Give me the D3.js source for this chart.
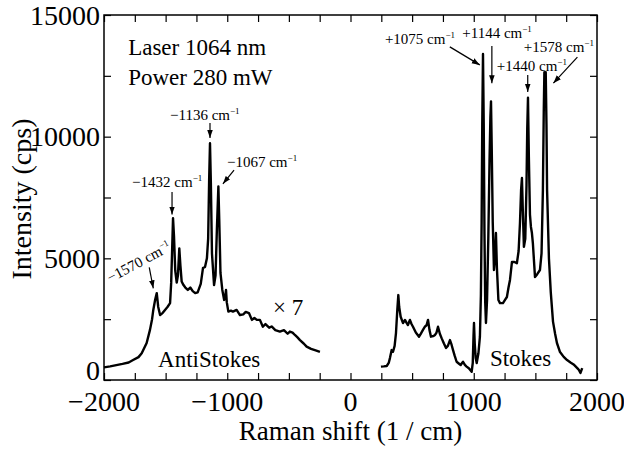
<!DOCTYPE html>
<html>
<head>
<meta charset="utf-8">
<script src="https://cdn.jsdelivr.net/npm/d3@7"></script>
<style>
  body { margin: 0; background: #fff; }
</style>
</head>
<body>
<div id="chart"></div>
<script>
// anti-Stokes branch (signal multiplied by 7)
var antiShift = [-2000, -1950, -1900, -1850, -1800, -1764, -1720, -1694, -1654, -1627, -1610, -1600, -1585, -1572, -1560, -1545, -1525, -1505, -1485, -1464, -1455, -1448, -1440, -1432, -1422, -1410, -1400, -1389, -1380, -1370, -1355, -1340, -1320, -1300, -1280, -1260, -1240, -1215, -1197, -1180, -1165, -1155, -1147, -1140, -1133, -1124, -1107, -1095, -1084, -1072, -1065, -1055, -1040, -1025, -1015, -1010, -1004, -991, -970, -954, -924, -897, -870, -850, -824, -800, -780, -760, -735, -711, -690, -660, -640, -610, -573, -540, -510, -492, -470, -451, -430, -410, -380, -356, -320, -289, -248];
var antiCounts = [520, 560, 610, 660, 720, 820, 940, 1100, 1520, 2060, 2500, 2880, 3300, 3570, 3000, 2670, 2750, 2880, 3000, 3160, 3990, 5200, 6650, 5900, 4500, 4000, 4300, 5410, 4700, 4050, 3900, 3800, 3700, 3800, 3650, 3570, 3600, 3950, 4600, 4650, 5000, 5800, 8200, 9730, 8100, 5200, 3900, 4300, 6200, 7950, 6600, 4400, 3700, 3290, 3500, 3700, 3200, 2810, 2850, 2810, 2880, 2670, 2700, 2800, 2750, 2470, 2550, 2470, 2470, 2190, 2300, 2150, 2200, 2050, 1990, 2050, 1900, 1990, 1950, 1850, 1750, 1640, 1500, 1370, 1280, 1230, 1160];

// Stokes branch
var stokesShift = [247, 270, 294, 310, 320, 334, 345, 358, 369, 380, 388, 395, 407, 426, 442, 455, 466, 482, 495, 507, 530, 556, 570, 588, 605, 617, 629, 641, 653, 670, 686, 698, 710, 725, 740, 758, 775, 790, 807, 820, 832, 845, 861, 878, 894, 905, 913, 928, 942, 960, 983, 992, 998, 1002, 1008, 1016, 1024, 1038, 1050, 1058, 1064, 1069, 1075, 1081, 1087, 1093, 1099, 1108, 1118, 1128, 1135, 1140, 1146, 1154, 1164, 1172, 1180, 1188, 1200, 1213, 1237, 1255, 1269, 1282, 1294, 1310, 1330, 1350, 1364, 1375, 1384, 1391, 1399, 1407, 1418, 1428, 1434, 1440, 1447, 1456, 1464, 1472, 1480, 1497, 1515, 1537, 1550, 1561, 1568, 1573, 1578, 1584, 1590, 1595, 1610, 1625, 1643, 1660, 1675, 1700, 1730, 1757, 1785, 1810, 1838, 1852, 1866, 1880];
var stokesCounts = [550, 560, 575, 700, 900, 1230, 1160, 1400, 1930, 2900, 3490, 3000, 2600, 2340, 2470, 2350, 2260, 2470, 2300, 2190, 1950, 1780, 1900, 2060, 2200, 2250, 2470, 2050, 1780, 1800, 1850, 1950, 2190, 1900, 1710, 1500, 1320, 1400, 1640, 1450, 1230, 1000, 750, 680, 617, 700, 750, 620, 550, 480, 340, 700, 1800, 2340, 1500, 900, 700, 1100, 1780, 3500, 6500, 10500, 13400, 10500, 6000, 3200, 2340, 3300, 5800, 9000, 10800, 11450, 9500, 6500, 4520, 5000, 6040, 4600, 3290, 3160, 3160, 3300, 3410, 3800, 4110, 4850, 4850, 4800, 5300, 6450, 7800, 8300, 6800, 5470, 5800, 8000, 10300, 11600, 9200, 6800, 6290, 6040, 5600, 4230, 4350, 4520, 5200, 7800, 11000, 12650, 12200, 12650, 10500, 7800, 5000, 3600, 2400, 1900, 1520, 1150, 950, 820, 720, 640, 500, 420, 290, 490];

var xTicksMajor = [-2000, -1000, 0, 1000, 2000];
var xTickLabels = ["\u22122000", "\u22121000", "0", "1000", "2000"];
var yTicksMajor = [0, 5000, 10000, 15000];
var yTickLabels = ["0", "5000", "10000", "15000"];

var antiData = antiShift.map(function (d, i) { return { x: d, y: antiCounts[i] }; });
var stokesData = stokesShift.map(function (d, i) { return { x: d, y: stokesCounts[i] }; });

var serif = "'Liberation Serif', serif";

var margin = { top: 15, right: 27, bottom: 69, left: 104 },
    width = 624 - margin.left - margin.right,
    height = 449 - margin.top - margin.bottom;

var x = d3.scaleLinear().domain([-2000, 2000]).range([0, width]);
var y = d3.scaleLinear().domain([0, 15000]).range([height, 0]);

var svg = d3.select("#chart").append("svg")
    .attr("width", 624)
    .attr("height", 449)
    .append("g")
    .attr("transform", "translate(" + margin.left + "," + margin.top + ")");

svg.append("defs").append("marker")
    .attr("id", "head")
    .attr("viewBox", "0 0 10 10")
    .attr("refX", 10).attr("refY", 5)
    .attr("markerWidth", 8).attr("markerHeight", 8)
    .attr("markerUnits", "userSpaceOnUse")
    .attr("orient", "auto")
    .append("path")
    .attr("d", "M0,1.5 L10,5 L0,8.5 Z")
    .attr("fill", "#000");

// ticks inside on all four sides
var tickLen = 7;
var xMinor = d3.range(-2000, 2001, 250);
var yMinor = d3.range(0, 15001, 2500);

function inward(axis) {
    return axis.tickSizeInner(-tickLen).tickSizeOuter(0).tickFormat("");
}

svg.append("g").attr("transform", "translate(0," + height + ")")
    .call(inward(d3.axisBottom(x).tickValues(xMinor)));
svg.append("g")
    .call(inward(d3.axisTop(x).tickValues(xMinor)));
svg.append("g")
    .call(inward(d3.axisLeft(y).tickValues(yMinor)));
svg.append("g").attr("transform", "translate(" + width + ",0)")
    .call(inward(d3.axisRight(y).tickValues(yMinor)));

svg.selectAll(".domain").remove();
svg.selectAll(".tick text").remove();
svg.selectAll(".tick line").attr("stroke", "#000").attr("stroke-width", 1.2);

svg.append("rect")
    .attr("width", width).attr("height", height)
    .attr("fill", "none").attr("stroke", "#000").attr("stroke-width", 1.5);

// tick labels
svg.selectAll(".xlab").data(xTicksMajor).enter().append("text")
    .attr("x", function (d) { return x(d); })
    .attr("y", height + 31)
    .attr("text-anchor", "middle")
    .style("font-family", serif)
    .style("font-size", "28px")
    .text(function (d, i) { return xTickLabels[i]; });

// the "0" label is lifted a little so it clears "−2000"
svg.selectAll(".ylab").data(yTicksMajor).enter().append("text")
    .attr("x", -4)
    .attr("y", function (d) { return d === 0 ? y(d) - 10 : y(d); })
    .attr("dy", "0.34em")
    .attr("text-anchor", "end")
    .style("font-family", serif)
    .style("font-size", "28px")
    .text(function (d, i) { return yTickLabels[i]; });

svg.append("text")
    .attr("x", width / 2)
    .attr("y", height + 60)
    .attr("text-anchor", "middle")
    .style("font-family", serif)
    .style("font-size", "27px")
    .text("Raman shift (1 / cm)");

svg.append("text")
    .attr("transform", "translate(" + (31 - margin.left) + "," + (199 - margin.top) + ") rotate(-90)")
    .attr("text-anchor", "middle")
    .style("font-family", serif)
    .style("font-size", "28px")
    .text("Intensity (cps)");

// spectrum
var line = d3.line().x(function (d) { return x(d.x); }).y(function (d) { return y(d.y); });

[antiData, stokesData].forEach(function (data) {
    svg.append("path")
        .datum(data)
        .attr("fill", "none")
        .attr("stroke", "#000")
        .attr("stroke-width", 2.4)
        .attr("stroke-linejoin", "round")
        .attr("d", line);
});

// plain labels
function label(tx, ty, str, size) {
    svg.append("text")
        .attr("x", x(tx)).attr("y", y(ty))
        .style("font-family", serif)
        .style("font-size", size + "px")
        .text(str);
}
label(-1804, 13360, "Laser 1064 nm", 23);
label(-1804, 12120, "Power 280 mW", 23);
label(-1561, 530, "AntiStokes", 23);
label(1131, 575, "Stokes", 23);
label(-629, 2670, "\u00d7 7", 23);

// peak annotations: text anchor, arrow start, arrow end (data units)
var peaks = [
    { t: "\u22121570", tx: -1950, ty: 3990, rot: -28, ax: [-1633, 4630], ah: [-1600, 3770] },
    { t: "\u22121432", tx: -1772, ty: 7930, rot: 0, ax: [-1448, 7730], ah: [-1448, 6800] },
    { t: "\u22121136", tx: -1464, ty: 10690, rot: 0, ax: [-1140, 10560], ah: [-1140, 9950] },
    { t: "\u22121067", tx: -1002, ty: 8750, rot: 0, ax: [-945, 8630], ah: [-1035, 8060] },
    { t: "+1075", tx: 279, ty: 13810, rot: 0, ax: [806, 13690], ah: [1049, 12950] },
    { t: "+1144", tx: 907, ty: 14060, rot: 0, ax: [1147, 13730], ah: [1147, 12200] },
    { t: "+1440", tx: 1187, ty: 12700, rot: 0, ax: [1438, 12530], ah: [1438, 11840] },
    { t: "+1578", tx: 1406, ty: 13480, rot: 0, ax: [1841, 13270], ah: [1646, 12200] }
];

peaks.forEach(function (p) {
    var t = svg.append("text")
        .attr("transform", "translate(" + x(p.tx) + "," + y(p.ty) + ") rotate(" + p.rot + ")")
        .style("font-family", serif)
        .style("font-size", "15px");
    t.append("tspan").text(p.t + " cm");
    t.append("tspan").attr("dy", -6).style("font-size", "9px").text("\u22121");

    svg.append("line")
        .attr("x1", x(p.ax[0])).attr("y1", y(p.ax[1]))
        .attr("x2", x(p.ah[0])).attr("y2", y(p.ah[1]))
        .attr("stroke", "#000").attr("stroke-width", 1.2)
        .attr("marker-end", "url(#head)");
});
</script>
</body>
</html>
